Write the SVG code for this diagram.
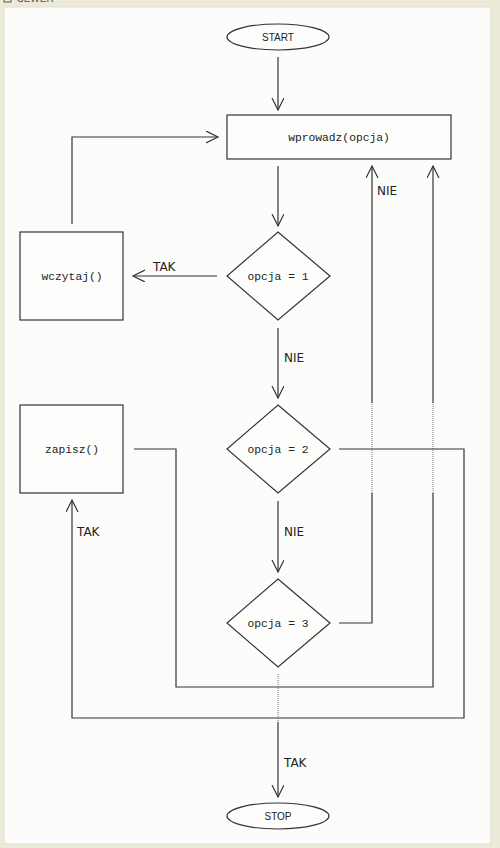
<svg xmlns="http://www.w3.org/2000/svg" width="500" height="848" viewBox="0 0 500 848">
<defs>
<marker id="arr" markerWidth="14" markerHeight="14" refX="12" refY="6" orient="auto" markerUnits="userSpaceOnUse">
<path d="M0,0 L12,6 L0,12" fill="none" stroke="#333" stroke-width="1.2"/>
</marker>
<style>
.ln{fill:none;stroke:#333;stroke-width:1.2}
.dot{fill:none;stroke:#777;stroke-width:1;stroke-dasharray:1,1}
.shape{fill:#fdfefc;stroke:#333;stroke-width:1.2}
.mono{font-family:"Liberation Mono","DejaVu Sans Mono",monospace;font-size:11.3px;fill:#222;text-anchor:middle}
.sans{font-family:"Liberation Sans",Arial,sans-serif;font-size:10px;fill:#222;text-anchor:middle}
.lbl{font-family:"DejaVu Sans","Liberation Sans",sans-serif;font-size:12px;fill:#222}
</style>
</defs>
<rect x="0" y="0" width="500" height="848" fill="#eeead9"/>
<rect x="4" y="7" width="487" height="837" fill="#fcfdfb" stroke="#e0dccb" stroke-width="1"/>
<g id="title">
<rect x="4" y="-5" width="7" height="7" fill="none" stroke="#555" stroke-width="1"/>
<text x="17" y="2" font-family="Liberation Sans,Arial,sans-serif" font-size="10px" fill="#555">SEWER</text>
</g>
<g id="connectors">
<line class="ln" x1="278" y1="57" x2="278" y2="110" marker-end="url(#arr)"/>
<line class="ln" x1="278" y1="166" x2="278" y2="226" marker-end="url(#arr)"/>
<line class="ln" x1="217" y1="276" x2="133" y2="276" marker-end="url(#arr)"/>
<polyline class="ln" points="72,224 72,137 218,137" marker-end="url(#arr)"/>
<line class="ln" x1="278" y1="328" x2="278" y2="398" marker-end="url(#arr)"/>
<line class="ln" x1="278" y1="501" x2="278" y2="572" marker-end="url(#arr)"/>
<polyline class="ln" points="134,449 176,449 176,687 433,687 433,493"/>
<line class="dot" x1="433" y1="493" x2="433" y2="403"/>
<line class="ln" x1="433" y1="403" x2="433" y2="166" marker-end="url(#arr)"/>
<polyline class="ln" points="339,449 464,449 464,718 72,718 72,500" marker-end="url(#arr)"/>
<polyline class="ln" points="339,623 372,623 372,493"/>
<line class="dot" x1="372" y1="493" x2="372" y2="403"/>
<line class="ln" x1="372" y1="403" x2="372" y2="166" marker-end="url(#arr)"/>
<line class="dot" x1="278" y1="674" x2="278" y2="722"/>
<line class="ln" x1="278" y1="722" x2="278" y2="797" marker-end="url(#arr)"/>
<text class="lbl" x="153" y="271">TAK</text>
<text class="lbl" x="284" y="362">NIE</text>
<text class="lbl" x="284" y="536">NIE</text>
<text class="lbl" x="377" y="195">NIE</text>
<text class="lbl" x="77" y="536">TAK</text>
<text class="lbl" x="284" y="767">TAK</text>
</g>
<g id="start">
<ellipse class="shape" cx="278" cy="37" rx="51" ry="13"/>
<text class="sans" x="278" y="41">START</text>
</g>
<g id="wprowadz">
<rect class="shape" x="227" y="115" width="224" height="44"/>
<text class="mono" x="339" y="141">wprowadz(opcja)</text>
</g>
<g id="opcja1">
<polygon class="shape" points="278,232 330,276 278,320 227,276"/>
<text class="mono" x="278" y="280">opcja = 1</text>
</g>
<g id="wczytaj">
<rect class="shape" x="20" y="232" width="103" height="88"/>
<text class="mono" x="72" y="280">wczytaj()</text>
</g>
<g id="opcja2">
<polygon class="shape" points="278,405 330,449 278,493 227,449"/>
<text class="mono" x="278" y="453">opcja = 2</text>
</g>
<g id="zapisz">
<rect class="shape" x="20" y="405" width="103" height="88"/>
<text class="mono" x="72" y="453">zapisz()</text>
</g>
<g id="opcja3">
<polygon class="shape" points="278,579 330,623 278,667 227,623"/>
<text class="mono" x="278" y="627">opcja = 3</text>
</g>
<g id="stop">
<ellipse class="shape" cx="278" cy="816" rx="51" ry="13"/>
<text class="sans" x="278" y="820">STOP</text>
</g>
</svg>
